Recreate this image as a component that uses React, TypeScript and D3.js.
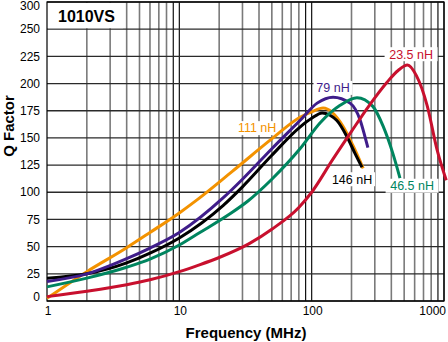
import React from "react";
import * as d3 from "d3";

const W = 448;
const H = 342;

// Tick values
const yTicks = [0, 25, 50, 75, 100, 125, 150, 175, 200, 225, 250, 275];
const yTickLabels = ["0", "25", "50", "75", "100", "125", "150", "175", "200", "225", "250", "300"];
const xTicks = [1, 10, 100, 1000];
const xTickLabels = ["1", "10", "100", "1000"];

// Series: [frequency MHz, Q]
const red235: [number, number][] = [
  [1, 4], [2, 9], [4, 15], [6, 19.5], [10, 27], [14, 33], [20, 40], [34, 53], [50, 66],
  [80, 86], [100, 100], [144, 130], [200, 156], [262, 177], [370, 201], [450, 212],
  [530, 217], [620, 207], [745, 180], [887, 139], [1040, 111],
];
const green465: [number, number][] = [
  [1, 13], [2, 21], [4, 31], [6, 38.5], [10, 51.5], [14.3, 63], [24, 80], [33, 92], [50, 112],
  [81.6, 140], [116, 164], [164, 180], [220, 187], [290, 179], [346, 161], [410, 136], [465, 113],
];
const purple79: [number, number][] = [
  [1, 18], [2, 25], [4, 39], [6, 48.7], [10, 63], [21.5, 95], [30, 112], [50, 140],
  [81.6, 166], [110, 182], [145, 187.5], [195, 182], [233, 166], [253, 151], [266, 141],
];
const orange111: [number, number][] = [
  [1, 2.5], [2, 27], [4, 49], [6, 63], [10, 81], [13.6, 93], [25, 119], [51, 150],
  [81.6, 169], [100, 174], [122, 177.5], [172, 161], [205, 143], [245, 122],
];
const black146: [number, number][] = [
  [1, 21], [2, 25], [4, 35], [6, 44], [10, 58], [21.5, 88], [30, 105], [50, 134],
  [81.6, 160], [100, 168], [120, 173], [155, 166], [185, 151], [212, 136], [240, 123],
];

const seriesNames = ["111 nH", "146 nH", "79 nH", "46.5 nH", "23.5 nH"];
const seriesColors = ["#f39200", "#000000", "#3f1d8a", "#00855f", "#c8102e"];
const seriesData = [orange111, black146, purple79, green465, red235];
// label anchors [freq, Q]
const labelPos: [number, number][] = [[38.7, 159], [202, 112], [145, 196], [574, 106], [564, 227]];

const FONT = "'Liberation Sans', Arial, Helvetica, sans-serif";

export default function App() {
  const left = 47, right = 444, top = 2, bottom = 301;
  const x = d3.scaleLog().domain([1, 1000]).range([left, right]);
  const y = d3.scaleLinear().domain([0, 275]).range([bottom, top]);

  const line = d3
    .line<[number, number]>()
    .x((d) => x(d[0]))
    .y((d) => y(d[1]))
    .curve(d3.curveMonotoneX);

  const minor: { v: number; dark: boolean }[] = [];
  [1, 10, 100].forEach((dec) => {
    for (let m = 2; m <= 10; m++) minor.push({ v: dec * m, dark: m >= 9 });
  });

  const labelFont = 12.5;

  return (
    <svg width={W} height={H} style={{ position: "absolute", left: 0, top: 0, background: "#fff" }}>
      <rect x={0} y={0} width={W} height={H} fill="#fff" />
      {/* vertical gridlines */}
      {minor.map((g, i) => (
        <line
          key={"v" + i}
          x1={x(g.v)}
          x2={x(g.v)}
          y1={top}
          y2={bottom}
          stroke={g.dark ? "#111" : "#7a7a7a"}
          strokeWidth={g.dark ? 1.2 : 1.6}
        />
      ))}
      {/* horizontal gridlines */}
      {yTicks.map((t) => (
        <line key={"h" + t} x1={left} x2={right} y1={y(t)} y2={y(t)} stroke="#2a2a2a" strokeWidth={1.3} />
      ))}
      {/* frame */}
      <rect x={left} y={top} width={right - left} height={bottom - top} fill="none" stroke="#000" strokeWidth={1.2} />

      {/* title box */}
      <rect x={left + 1} y={top + 1} width={75} height={y(250) - top - 2} fill="#fff" />
      <text x={left + 11} y={22} fontFamily={FONT} fontWeight="bold" fontSize={16} fill="#000">
        1010VS
      </text>

      {/* label backgrounds */}
      {seriesNames.map((n, i) => {
        const w = n.length * labelFont * 0.56 + 4;
        return (
          <rect
            key={"lb" + i}
            x={x(labelPos[i][0]) - w / 2}
            y={y(labelPos[i][1]) - 7}
            width={w}
            height={14}
            fill="#fff"
          />
        );
      })}

      {/* curves */}
      {seriesData.map((d, i) => (
        <path key={"s" + i} d={line(d) || ""} fill="none" stroke={seriesColors[i]} strokeWidth={3} strokeLinecap="butt" />
      ))}

      {/* labels */}
      {seriesNames.map((n, i) => (
        <text
          key={"lt" + i}
          x={x(labelPos[i][0])}
          y={y(labelPos[i][1])}
          dy="0.35em"
          textAnchor="middle"
          fontFamily={FONT}
          fontSize={labelFont}
          fill={seriesColors[i]}
        >
          {n}
        </text>
      ))}

      {/* y tick labels */}
      {yTicks.map((t, i) => (
        <text
          key={"yl" + t}
          x={40}
          y={Math.min(Math.max(y(t), 6), 297)}
          dy="0.35em"
          textAnchor="end"
          fontFamily={FONT}
          fontSize={12}
          fill="#000"
        >
          {yTickLabels[i]}
        </text>
      ))}
      {/* x tick labels */}
      {xTicks.map((t, i) => (
        <text
          key={"xl" + t}
          x={i === xTicks.length - 1 ? x(t) + 2 : x(t) + 1}
          y={315}
          textAnchor={i === xTicks.length - 1 ? "end" : "middle"}
          fontFamily={FONT}
          fontSize={12}
          fill="#000"
        >
          {xTickLabels[i]}
        </text>
      ))}

      {/* axis titles */}
      <text x={246} y={338} textAnchor="middle" fontFamily={FONT} fontWeight="bold" fontSize={15} fill="#000">
        Frequency (MHz)
      </text>
      <text
        transform={`translate(14,126) rotate(-90)`}
        textAnchor="middle"
        fontFamily={FONT}
        fontWeight="bold"
        fontSize={15}
        fill="#000"
      >
        Q Factor
      </text>
    </svg>
  );
}
